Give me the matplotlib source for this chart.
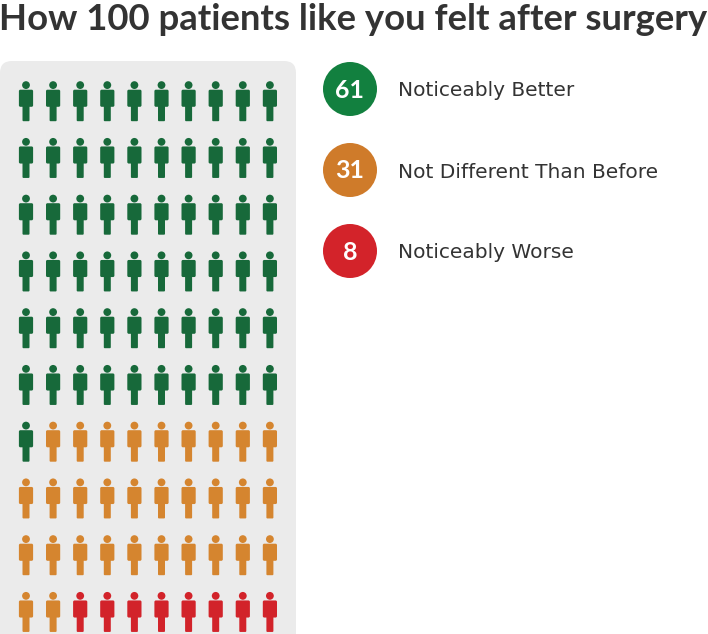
import matplotlib
matplotlib.use("Agg")
import matplotlib.pyplot as plt
from matplotlib.patches import Circle, FancyBboxPatch

title = "How 100 patients like you felt after surgery"
categories = ["Noticeably Better", "Not Different Than Before", "Noticeably Worse"]
counts = [61, 31, 8]
icon_colors = ["#17693a", "#d5852f", "#d2232a"]
badge_colors = ["#12803f", "#cf7b2a", "#d3232a"]

n_cols = 10
n_rows = 10


def draw_person(ax, cx, top, color):
    # head, torso, legs (units are pixels, y goes down)
    ax.add_patch(Circle((cx, top + 3.6), 3.9, color=color, lw=0))
    ax.add_patch(FancyBboxPatch((cx - 6.3, top + 9), 12.6, 15.5,
                                boxstyle="round,pad=0.8,rounding_size=1.5", color=color, lw=0))
    ax.add_patch(FancyBboxPatch((cx - 3, top + 24), 6, 15.2,
                                boxstyle="round,pad=0.5,rounding_size=1", color=color, lw=0))


fig = plt.figure(figsize=(7.08, 6.34), dpi=100)
ax = fig.add_axes([0, 0, 1, 1])
ax.set_xlim(0, 708)
ax.set_ylim(634, 0)
ax.axis("off")

ax.text(-1, 19, title, fontsize=26.3, fontweight="bold", family="Lato", color="#333333",
        ha="left", va="center")

# grey panel behind the icons
ax.add_patch(FancyBboxPatch((12, 73), 272, 600, boxstyle="round,pad=12,rounding_size=12",
                            color="#ebebeb", lw=0))

# one colour per person, filled row by row
person_colors = []
for count, color in zip(counts, icon_colors):
    person_colors += [color] * count

for i, color in enumerate(person_colors):
    col = i % n_cols
    row = i // n_cols
    draw_person(ax, 26 + col * 27.1, 81.5 + row * 56.75, color)

# legend
for i, (name, count, color) in enumerate(zip(categories, counts, badge_colors)):
    y = 89 + i * 81
    ax.add_patch(Circle((350, y), 27, color=color, lw=0))
    ax.text(350, y + 1, str(count), fontsize=18, fontweight="bold", family="Lato", color="white",
            ha="center", va="center")
    ax.text(398, y + 2, name, fontsize=14.5, family="DejaVu Sans", color="#333333",
            ha="left", va="center")

plt.savefig("out.png", dpi=100)
